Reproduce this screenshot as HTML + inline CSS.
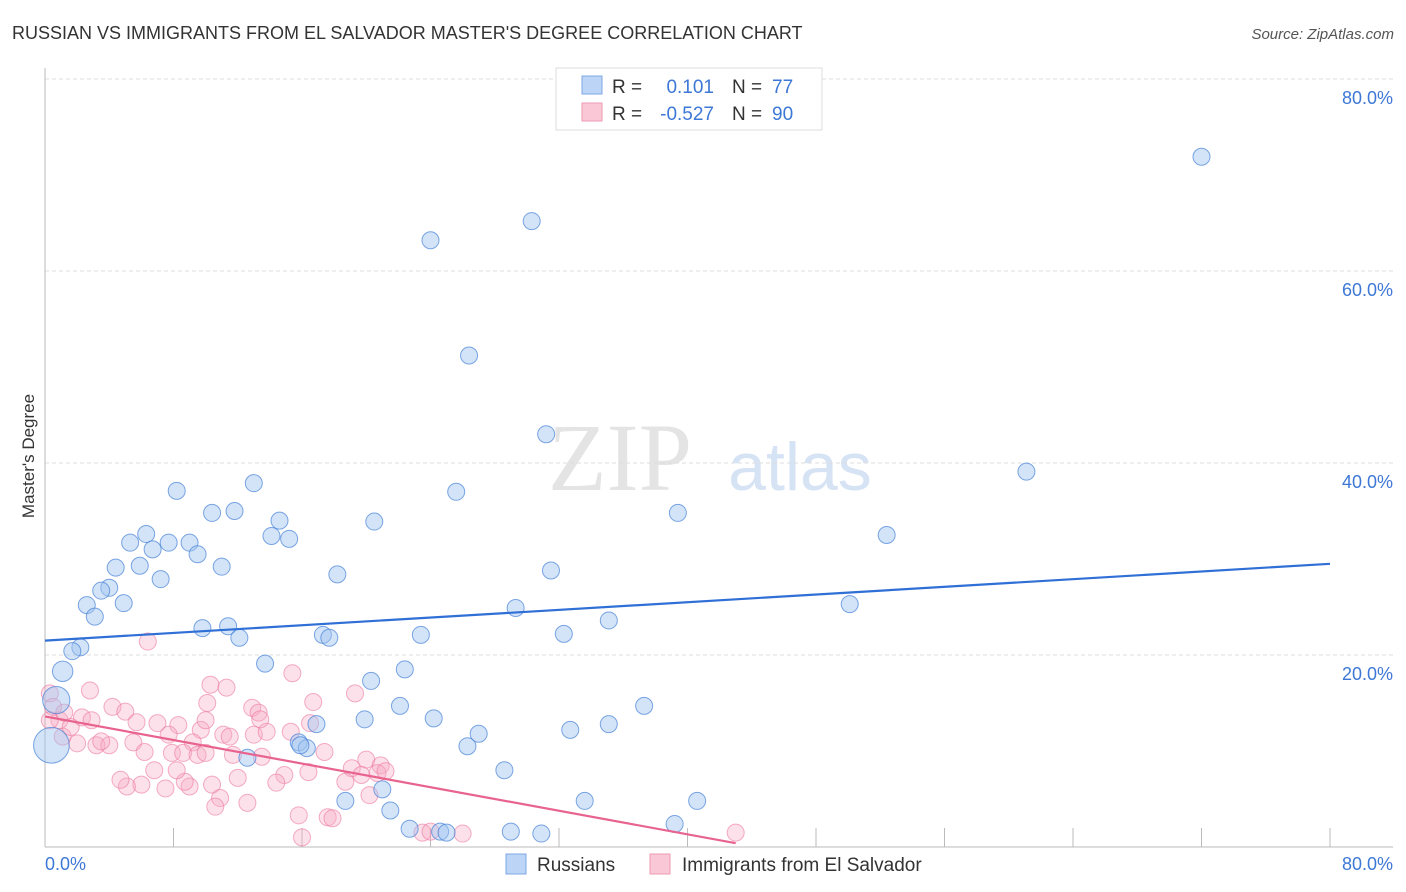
<!DOCTYPE html>
<html><head><meta charset="utf-8"><style>
body{margin:0;background:#fff;font-family:"Liberation Sans",sans-serif}
svg{display:block}
</style></head><body>
<svg id="c" width="1406" height="892" viewBox="0 0 1406 892">
<text x="12" y="39" font-size="18" fill="#333">RUSSIAN VS IMMIGRANTS FROM EL SALVADOR MASTER'S DEGREE CORRELATION CHART</text>
<text x="1394" y="39" font-size="15" fill="#555" font-style="italic" text-anchor="end">Source: ZipAtlas.com</text>
<text x="620" y="490" font-size="96" fill="#e4e4e4" font-family="Liberation Serif" text-anchor="middle">ZIP</text>
<text x="800" y="490" font-size="68" fill="#d6e3f5" text-anchor="middle">atlas</text>
<g id="grid"></g>
<g id="axes"></g>
<g id="pts"></g>
<g id="lines"></g>
<text transform="translate(34,456) rotate(-90)" font-size="17" fill="#333" text-anchor="middle">Master's Degree</text>
<g>
<rect x="556" y="68" width="266" height="62" fill="#fff" stroke="#ddd"/>
<rect x="582" y="76" width="20" height="18" fill="#bcd4f5" stroke="#7fa8e6"/>
<rect x="582" y="103" width="20" height="18" fill="#f9c7d5" stroke="#ef9ab3"/>
<text x="612" y="93" font-size="19" fill="#333">R =</text>
<text x="714" y="93" font-size="19" fill="#3d78d6" text-anchor="end">0.101</text>
<text x="732" y="93" font-size="19" fill="#333">N =</text>
<text x="772" y="93" font-size="19" fill="#3d78d6">77</text>
<text x="612" y="120" font-size="19" fill="#333">R =</text>
<text x="714" y="120" font-size="19" fill="#3d78d6" text-anchor="end">-0.527</text>
<text x="732" y="120" font-size="19" fill="#333">N =</text>
<text x="772" y="120" font-size="19" fill="#3d78d6">90</text>
</g>
<g>
<rect x="506" y="854" width="20" height="20" fill="#bcd4f5" stroke="#7fa8e6"/>
<text x="537" y="871" font-size="19" fill="#333">Russians</text>
<rect x="650" y="854" width="20" height="20" fill="#f9c7d5" stroke="#ef9ab3"/>
<text x="682" y="871" font-size="19" fill="#333">Immigrants from El Salvador</text>
</g>
</svg>
<script>
const yTicks=[20,40,60,80];
const yTickLabels=["20.0%","40.0%","60.0%","80.0%"];
const xLabels=["0.0%","80.0%"];
const blueX=[72.0,30.3,24.0,26.4,31.2,61.1,25.6,13.0,8.2,10.4,11.8,14.6,20.5,39.4,6.3,5.3,7.7,9.0,6.7,9.5,14.1,15.2,52.4,11.0,5.9,4.4,18.2,31.5,7.2,4.0,3.5,2.6,4.9,50.1,3.1,29.3,35.1,9.8,11.4,12.1,17.3,17.7,23.4,32.3,2.2,1.7,13.7,22.4,1.1,20.3,37.3,22.1,0.7,24.2,19.9,16.9,35.1,32.7,27.0,15.8,16.3,26.3,28.6,12.6,0.4,21.0,18.7,21.5,33.6,40.6,22.7,24.6,25.0,29.0,30.9,39.2,15.9];
const blueY=[71.9,65.2,63.2,51.2,43.0,39.1,37.0,37.9,37.1,34.8,35.0,34.0,33.9,34.8,32.6,31.7,31.7,31.7,31.0,30.5,32.4,32.1,32.5,29.2,29.3,29.1,28.4,28.8,27.9,27.0,26.7,25.2,25.4,25.3,24.0,24.9,23.6,22.8,23.0,21.8,22.1,21.8,22.1,22.2,20.8,20.4,19.1,18.5,18.3,17.3,14.7,14.7,15.3,13.4,13.3,12.8,12.8,12.2,11.8,10.9,10.3,10.5,8.0,9.3,10.6,6.0,4.8,3.8,4.8,4.8,1.9,1.6,1.5,1.6,1.4,2.4,10.6];
const blueSize=[1,1,1,1,1,1,1,1,1,1,1,1,1,1,1,1,1,1,1,1,1,1,1,1,1,1,1,1,1,1,1,1,1,1,1,1,1,1,1,1,1,1,1,1,1,1,1,1,1.2,1,1,1,1.6,1,1,1,1,1,1,1,1,1,1,1,2.1,1,1,1,1,1,1,1,1,1,1,1,1];
const pinkX=[6.4,2.8,10.3,11.3,10.1,15.4,19.3,16.7,12.9,13.3,4.2,5.0,2.3,2.9,5.7,7.0,8.3,9.7,7.7,11.1,11.5,13.0,13.8,15.3,16.5,9.2,5.5,3.2,4.0,2.0,1.1,6.2,7.9,8.6,9.5,10.0,11.7,13.5,17.4,20.0,20.9,19.1,19.7,20.7,18.7,16.4,14.9,14.4,12.0,10.4,9.0,8.7,7.5,6.0,5.1,4.7,6.8,8.2,10.9,10.6,12.6,15.8,17.6,17.9,20.2,16.0,23.5,0.3,0.5,0.9,1.6,0.3,43.0,26.0,24.0,21.2,1.2,3.5,13.4,10.0];
const pinkY=[21.4,16.3,16.9,16.6,15.0,18.1,16.0,15.1,14.5,14.0,14.6,14.1,13.5,13.2,13.0,12.9,12.7,12.2,11.7,11.7,11.5,11.7,12.0,12.0,12.9,10.9,10.9,10.6,10.6,10.8,11.5,9.9,9.8,9.8,9.6,9.8,9.6,9.4,9.9,9.1,8.5,8.2,7.5,7.7,6.8,7.8,7.5,6.7,7.2,6.5,6.3,6.8,6.1,6.5,6.3,7.0,8.0,8.0,5.1,4.2,4.6,3.3,3.1,3.0,5.4,1.0,1.5,16.0,14.6,13.2,12.5,13.2,1.5,1.4,1.6,7.9,14.0,11.0,13.3,13.2];
const blueLine=[0,21.5,80,29.5];
const pinkLine=[0,13.6,43,0.4];
const X0=45,X1=1330,Y0=847,Y1=79;
const sx=v=>X0+(v/80)*(X1-X0);
const sy=v=>Y0-(v/80)*(Y0-Y1);
const NS="http://www.w3.org/2000/svg";
function mk(tag,parent,attrs){const e=document.createElementNS(NS,tag);for(const k in attrs)e.setAttribute(k,attrs[k]);document.getElementById(parent).appendChild(e);return e;}
yTicks.forEach((t,i)=>{
 const g=mk('line','grid',{x1:X0,x2:1393,y1:sy(t),y2:sy(t),stroke:'#ddd','stroke-dasharray':'4,3'});
 
 
 const l=mk('text','grid',{x:1393,y:sy(t)+25,'font-size':18,fill:'#3d78d6','text-anchor':'end'});
 l.textContent=yTickLabels[i];
 
 
});
let a=mk('line','axes',{x1:X0,x2:X0,y1:68,y2:Y0,stroke:'#bbb'});


a=mk('line','axes',{x1:X0,x2:1393,y1:Y0,y2:Y0,stroke:'#bbb'});


for(let i=1;i<=10;i++){
 const t=mk('line','axes',{x1:sx(i*8),x2:sx(i*8),y1:828,y2:Y0,stroke:'#bbb'});
 
 
}
let xl=mk('text','axes',{x:45,y:870,'font-size':18,fill:'#3d78d6'});xl.textContent=xLabels[0];


xl=mk('text','axes',{x:1393,y:870,'font-size':18,fill:'#3d78d6','text-anchor':'end'});xl.textContent=xLabels[1];


pinkX.forEach((v,i)=>{
 const c=mk('circle','pts',{cx:sx(v),cy:sy(pinkY[i]),r:8.5,fill:'rgba(246,170,194,0.35)',stroke:'rgba(236,120,158,0.6)','stroke-width':1});
 
 
});
blueX.forEach((v,i)=>{
 const c=mk('circle','pts',{cx:sx(v),cy:sy(blueY[i]),r:8.5*blueSize[i],fill:'rgba(160,195,240,0.45)',stroke:'rgba(70,130,215,0.7)','stroke-width':1});
 
 
});
let ln=mk('line','lines',{x1:sx(blueLine[0]),y1:sy(blueLine[1]),x2:sx(blueLine[2]),y2:sy(blueLine[3]),stroke:'#2f6fd6','stroke-width':2.2});


ln=mk('line','lines',{x1:sx(pinkLine[0]),y1:sy(pinkLine[1]),x2:sx(pinkLine[2]),y2:sy(pinkLine[3]),stroke:'#e8638e','stroke-width':2.2});


</script>
</body></html>
